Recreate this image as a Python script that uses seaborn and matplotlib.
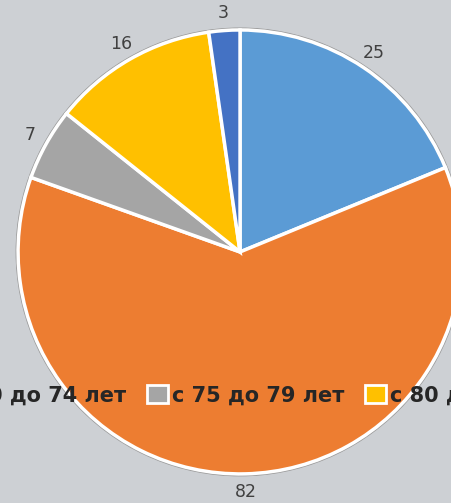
import numpy as np
import pandas as pd
import matplotlib
matplotlib.use('Agg')
import matplotlib.pyplot as plt
import seaborn as sns
from matplotlib.patches import Patch, Circle

# data
groups = ['с 65 до 69 лет', 'с 70 до 74 лет', 'с 75 до 79 лет', 'с 80 до 84 лет', '85 лет и старше']
counts = [25, 82, 7, 16, 3]
colors = ['#5b9bd5', '#ed7d31', '#a5a5a5', '#ffc000', '#4472c4']

df = pd.DataFrame({'group': groups, 'count': counts})

sns.set_theme(style='white')
plt.rcParams['font.family'] = ['DejaVu Sans']

bg = '#cdd0d4'
fig = plt.figure(figsize=(4.51, 5.03), dpi=100, facecolor=bg)
ax = fig.add_axes([0, 0, 1, 1])
ax.set_facecolor(bg)

# thin grey rim around the pie
ax.add_patch(Circle((0, 0), 1.008, color='#9a9a9a', zorder=0))

wedges, texts = ax.pie(df['count'], colors=colors, startangle=90, counterclock=False,
                       labels=[str(v) for v in df['count']], labeldistance=1.08,
                       wedgeprops=dict(edgecolor='white', linewidth=2.5),
                       textprops=dict(color='#404040', fontsize=12.5))
for t in texts:
    t.set_ha('center')
    t.set_va('center')

ax.set_xlim(-1.081, 0.950)
ax.set_ylim(-1.131, 1.135)
ax.set_aspect('equal')
ax.axis('off')

handles = [Patch(facecolor=c, edgecolor='white', linewidth=2) for c in colors]
fig.legend(handles, df['group'], loc='center left', bbox_to_anchor=(-0.683, 0.2147),
           ncol=5, frameon=False, handlelength=1.0, handleheight=1.0,
           handletextpad=0.2, columnspacing=1.0,
           prop=dict(size=15, weight='bold'), labelcolor='#262626')

fig.savefig('out.png', dpi=100, facecolor=bg)
